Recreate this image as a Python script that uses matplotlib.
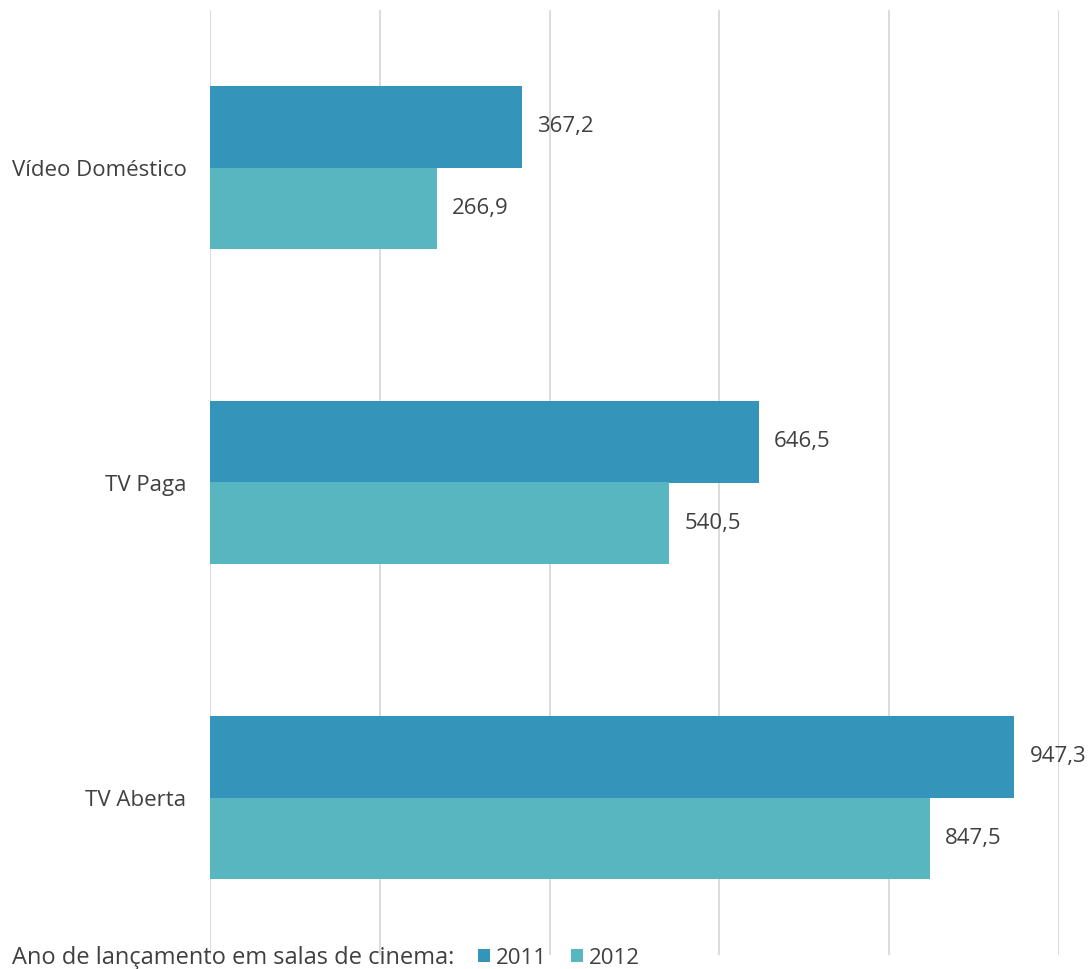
import matplotlib
matplotlib.use('Agg')
import matplotlib.pyplot as plt
import numpy as np

plt.rcParams['font.family'] = ['Open Sans', 'DejaVu Sans']

categories = ['Vídeo Doméstico', 'TV Paga', 'TV Aberta']
years = ['2011', '2012']
vals_2011 = [367.2, 646.5, 947.3]
vals_2012 = [266.9, 540.5, 847.5]
xticks = [0, 200, 400, 600, 800, 1000]

C2011 = '#3494BA'
C2012 = '#58B6C0'
TXT = '#404040'
GRID = '#D9D9D9'
FS = 16

fig = plt.figure(figsize=(10.9, 9.69), dpi=100)
fig.patch.set_facecolor('white')
ax = fig.add_axes([210/1090, 14/969, 849/1090, 945/969])

y = np.arange(len(categories))
bh = 0.26
b1 = ax.barh(y - bh/2, vals_2011, height=bh, color=C2011, label=years[0], zorder=2)
b2 = ax.barh(y + bh/2, vals_2012, height=bh, color=C2012, label=years[1], zorder=2)

fmt = lambda v: f'{v:.1f}'.replace('.', ',')
ax.bar_label(b1, labels=[fmt(v) for v in vals_2011], padding=11,
             fontsize=FS, color=TXT, clip_on=False)
ax.bar_label(b2, labels=[fmt(v) for v in vals_2012], padding=11,
             fontsize=FS, color=TXT, clip_on=False)

ax.set_xlim(0, 1000)
ax.set_ylim(len(categories) - 0.5, -0.5)
ax.set_xticks(xticks)
ax.set_xticklabels([])
ax.tick_params(axis='x', length=0)
ax.grid(axis='x', color=GRID, lw=1.3, zorder=0)
ax.set_yticks(y)
ax.set_yticklabels(categories, fontsize=FS, color=TXT)
ax.tick_params(axis='y', length=0, pad=17)
for s in ax.spines.values():
    s.set_visible(False)

fig.text(12/1090, 1 - 958/969, 'Ano de lançamento em salas de cinema:',
         fontsize=17, color=TXT, va='center', ha='left')
fig.legend(handles=[b1, b2], labels=years, loc='center left',
           bbox_to_anchor=(478/1090, 1 - 958/969), ncol=2, frameon=False,
           fontsize=FS, labelcolor=TXT, handlelength=0.55, handleheight=0.55,
           handletextpad=0.25, columnspacing=1.1, borderpad=0, borderaxespad=0)

fig.savefig('out.png', dpi=100, facecolor='white')
